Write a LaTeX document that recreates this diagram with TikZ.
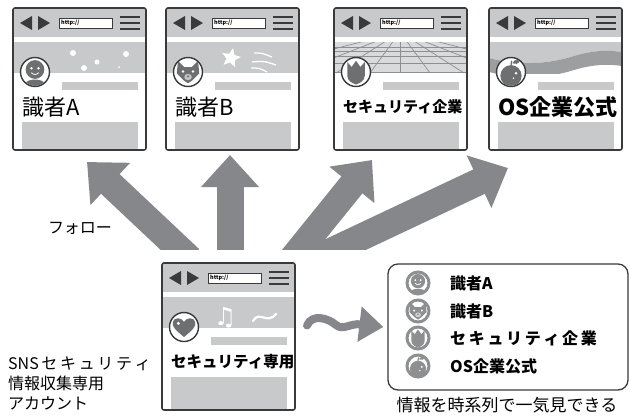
\documentclass[tikz,border=0pt]{standalone}
\usepackage{fontspec}
\setmainfont{Noto Sans CJK JP}
\newfontfamily\symfont{DejaVu Sans}
\usetikzlibrary{arrows.meta,shapes.geometric}

\definecolor{framegray}{HTML}{3A3A3B}
\definecolor{bargray}{HTML}{C8C9CA}
\definecolor{lightgray}{HTML}{D9DADB}
\definecolor{wavegray}{HTML}{9D9EA0}
\definecolor{arrowgray}{HTML}{86878A}
\definecolor{figgray}{HTML}{6E6F71}
\definecolor{icongray}{HTML}{8E8F91}

% browser window: #1 name, #2 top left, #3 height, #4 title, #5 header art, #6 avatar
\newcommand\browserwin[6]{%
  \begin{scope}[shift={#2}]
    \fill[bargray] (0,0) rectangle (133,29);
    \begin{scope}
      \clip (0,34) rectangle (133,65);
      \fill[bargray] (0,34) rectangle (133,65);
      #5
    \end{scope}
    % toolbar
    \fill[framegray] (7,15) -- (19,8) -- (19,22) -- cycle;
    \fill[framegray] (37,15) -- (25,8) -- (25,22) -- cycle;
    \draw[framegray, fill=white, line width=.8pt] (46,10) rectangle (99,20);
    \node[anchor=west, inner sep=0, font=\fontsize{5.5}{6}\selectfont\bfseries] (#1-url) at (48,15) {http://};
    \foreach \y in {9,15,21} \draw[framegray, line width=2pt] (107,\y) -- (127,\y);
    % profile
    \fill[bargray] (49,74) rectangle (125,82);
    \fill[bargray] (9,114) rectangle (125,#3);
    \begin{scope}[shift={(22,64)}]
      \filldraw[fill=white, draw=framegray, line width=1.4pt] (0,0) circle (14.5pt);
      \begin{scope}
        \clip (0,0) circle (13.8pt);
        \begin{scope}[scale=1.25]
          #6
        \end{scope}
      \end{scope}
    \end{scope}
    \node[title] (#1-title) at (9,99) {#4};
    \node[winframe, minimum width=133pt, minimum height=#3pt] (#1) at (0,0) {};
  \end{scope}}

% avatar figures, centred on (0,0)
\newcommand\figperson[1]{%
  \fill[#1] (0,-2) circle (7.5pt);
  \fill[#1] (0,14) ellipse (11pt and 8pt);
  \fill[white] (-2.8,-3) circle (1.1pt) (2.8,-3) circle (1.1pt);
  \draw[white, line width=.8pt] (-3,0.5) .. controls (-1,2.5) and (1,2.5) .. (3,0.5);}
\newcommand\figfox[1]{%
  \fill[#1] (-8,-9) -- (-3,-4) -- (3,-4) -- (8,-9) -- (9,1) -- (3,7) -- (0,9)
    -- (-3,7) -- (-9,1) -- cycle;
  \fill[white] (-4,-0.5) circle (1.1pt) (4,-0.5) circle (1.1pt);
  \fill[white!60!#1] (0,4) ellipse (3pt and 2.5pt);
  \fill[#1] (0,3.5) circle (1pt);}
\newcommand\figshield[1]{%
  \fill[#1] (-7,-8) -- (-3.5,-4) -- (0,-9) -- (3.5,-4) -- (7,-8) -- (7,3)
    .. controls (7,7) and (3,9) .. (0,10) .. controls (-3,9) and (-7,7) .. (-7,3) -- cycle;}
\newcommand\figapple[1]{%
  \fill[#1] (0,3) circle (8.5pt);
  \draw[#1, line width=1.2pt] (0,-5) -- (0.5,-9);
  \fill[#1] (1,-7) .. controls (3,-11) and (7,-10) .. (7.5,-9.5)
    .. controls (6,-6) and (3,-6) .. (1,-7);
  \fill[white] (4,1) circle (1.1pt) (2,5) circle (.7pt);}
\newcommand\figheart[1]{%
  \fill[#1] (0,8) .. controls (-6,3) and (-10,0) .. (-9,-4)
    .. controls (-8,-8) and (-2,-8) .. (0,-4)
    .. controls (2,-8) and (8,-8) .. (9,-4)
    .. controls (10,0) and (6,3) .. (0,8);
  \fill[white] (-4.5,-3) circle (1.3pt);}

% small round icon for the list box
\newcommand\listicon[2]{%
  \begin{scope}[shift={#1}]
    \filldraw[fill=white, draw=icongray, line width=3pt] (0,0) circle (11pt);
    \begin{scope}
      \clip (0,0) circle (10pt);
      \begin{scope}[scale=.95]
        #2
      \end{scope}
    \end{scope}
  \end{scope}}

\begin{document}
\begin{tikzpicture}[x=1pt, y=-1pt,
    winframe/.style={draw=framegray, line width=1.6pt, rounded corners=2pt,
      anchor=north west, inner sep=0, outer sep=0},
    title/.style={anchor=west, inner sep=0, font=\fontsize{22}{24}\selectfont\bfseries},
    bigarrow/.style={arrowgray, line width=27pt, -{Triangle[length=32pt,width=56pt]}},
    listlabel/.style={anchor=west, inner sep=0, font=\fontsize{16}{18}\selectfont\bfseries},
    plain/.style={inner sep=0, font=\fontsize{16}{20}\selectfont}]
  \useasboundingbox (0,0) rectangle (630,418);

  % followed accounts
  \browserwin{expA}{(13,8)}{142}{\mdseries 識者A}{%
    \fill[white] (60,45) circle (3pt) (84,54) circle (2.5pt) (71,60) circle (3pt)
      (113,46) circle (3pt) (106,59) circle (1pt);}{\figperson{figgray}}
  \browserwin{expB}{(166,8)}{142}{\mdseries 識者B}{%
    \node[star, star points=5, star point ratio=2.2, fill=white, minimum size=20pt,
      inner sep=0, rotate=-12] (expB-star) at (65,50) {};
    \draw[white, line width=1.3pt] (88,45) .. controls (96,45) .. (106,49)
      (86,54) .. controls (98,53) .. (110,57) (85,60) .. controls (93,60) .. (101,64);}%
    {\figfox{figgray}}
  \browserwin{sec}{(334,8)}{142}{\fontsize{15}{16}\selectfont セキュリティ企業}{%
    \fill[lightgray] (0,34) rectangle (133,65);
    \foreach \y in {39,43,48,55,64} \draw[icongray, line width=.7pt] (0,\y) -- (133,\y);
    \foreach \x in {-160,-105,-64,-30,0,30,64,105,160}
      \draw[icongray, line width=.7pt] (66,24) -- (66+\x,65);}{\figshield{figgray}}
  \browserwin{os}{(489,8)}{142}{OS企業公式}{%
    \fill[white] (0,34) rectangle (133,65);
    \fill[bargray] (0,34) -- (0,50) .. controls (30,58) and (60,56) .. (85,48)
      .. controls (105,42) and (120,42) .. (133,44) -- (133,34) -- cycle;
    \fill[wavegray] (0,50) .. controls (30,58) and (60,56) .. (85,48)
      .. controls (105,42) and (120,42) .. (133,44) -- (133,58)
      .. controls (120,56) and (105,56) .. (85,62)
      .. controls (60,70) and (30,72) .. (0,64) -- cycle;}{\figapple{figgray}}

  % own account
  \browserwin{own}{(162,263)}{147}{\fontsize{15.5}{16}\selectfont セキュリティ専用}{%
    \node[white, inner sep=0, font=\symfont\fontsize{25}{25}\selectfont] (own-note) at (63,55) {♫};
    \draw[white, line width=2.2pt, line cap=round] (91,58) .. controls (97,47) and (105,62) .. (114,51);}%
    {\figheart{figgray}}

  % follow arrows
  \coordinate (f1) at (190,259); \coordinate (t1) at (87,162);
  \coordinate (f2) at (230,260); \coordinate (t2) at (230,155);
  \coordinate (f3) at (292,259); \coordinate (t3) at (372,160);
  \coordinate (f4) at (315,259); \coordinate (t4) at (508,168);
  \begin{scope}
    \clip (0,0) rectangle (630,249);
    \draw[bigarrow] (f1) -- (t1);
    \draw[bigarrow] (f2) -- (t2);
    \draw[bigarrow] (f3) -- (t3);
    \draw[bigarrow] (f4) -- (t4);
  \end{scope}
  \node[plain] (follow) at (80,228) {フォロー};

  % timeline box
  \node[draw=framegray, line width=1.3pt, rounded corners=10pt, minimum width=240pt,
    minimum height=126pt, inner sep=0] (summary) at (508,327) {};
  \listicon{(418,283)}{\figperson{icongray}}
  \listicon{(418,311)}{\figfox{icongray}}
  \listicon{(418,338)}{\figshield{icongray}}
  \listicon{(418,366)}{\figapple{icongray}}
  \node[listlabel] (rowA) at (450,283) {識者A};
  \node[listlabel] (rowB) at (450,311) {識者B};
  \node[listlabel] (rowC) at (450,338) {セ\,キ\,ュ\,リ\,テ\,ィ\,企\,業};
  \node[listlabel] (rowD) at (450,366) {OS企業公式};
  \draw[arrowgray, line width=8pt, line cap=round, -{Triangle[length=24pt,width=34pt]}]
    ([xshift=12pt, yshift=11pt]own.east) .. controls +(5,-12) and (328,318) .. (336,325)
    .. controls (343,331) and (350,323) .. ([xshift=-4pt]summary.west);

  \node[plain, font=\fontsize{17}{20}\selectfont] (caption) at (507,405) {情報を時系列で一気見できる};
  \node[plain, anchor=west, align=left] (acct) at (8,383) {SNS\,セ\,キ\,ュ\,リ\,テ\,ィ\\情報収集専用\\アカウント};
\end{tikzpicture}
\end{document}
